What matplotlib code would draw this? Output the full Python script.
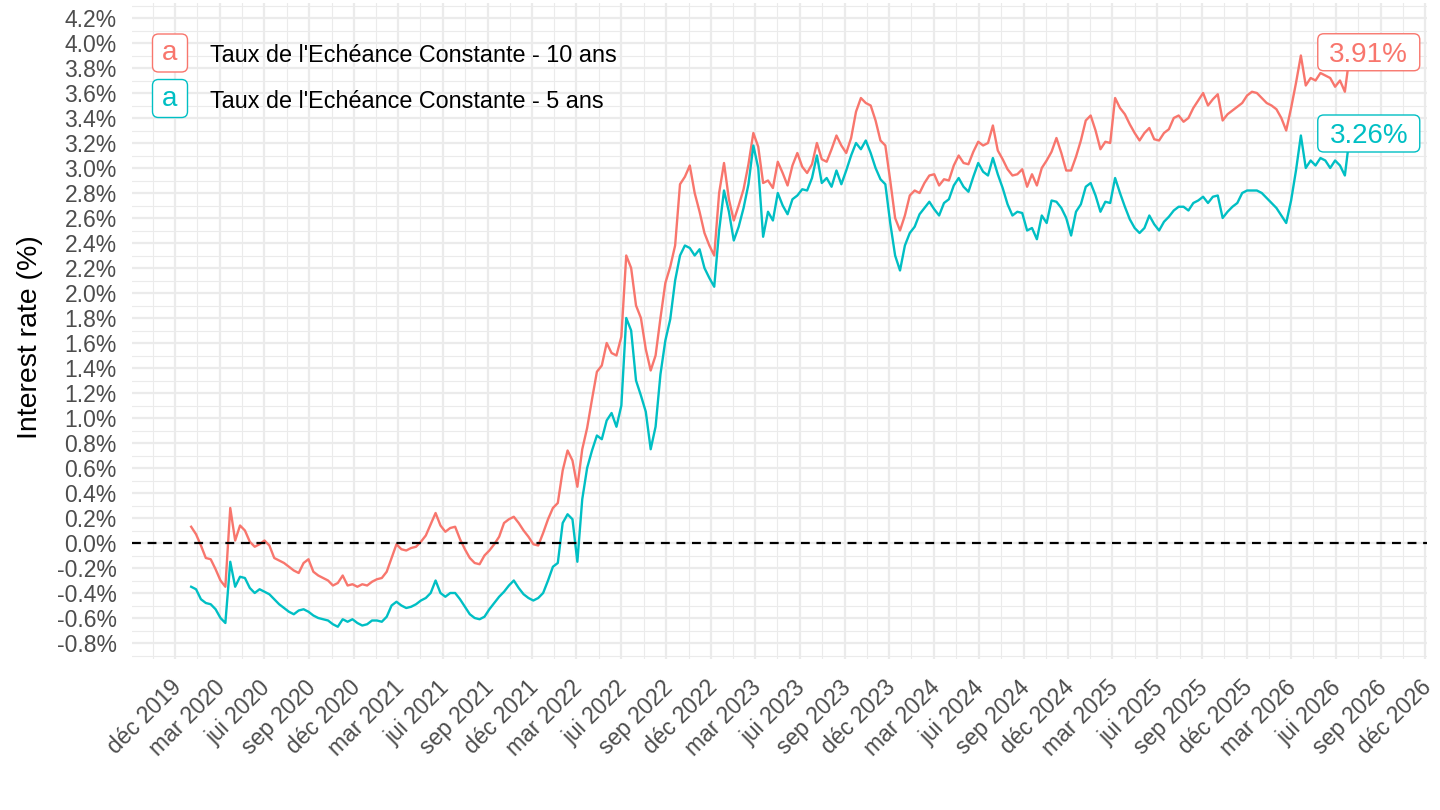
import numpy as np
import pandas as pd
import matplotlib
matplotlib.use("Agg")
import matplotlib.pyplot as plt
import matplotlib.dates as mdates
from matplotlib.patches import FancyBboxPatch
from matplotlib.transforms import IdentityTransform, ScaledTranslation

plt.rcParams['font.family'] = ['Liberation Sans', 'DejaVu Sans']

# dates de relevé (tous les 10 jours)
dates = pd.date_range("2020-01-03", periods=238, freq="10D")

# Taux de l'Echéance Constante - 10 ans (%)
taux_10 = [
    0.13, 0.07, -0.02, -0.12, -0.13, -0.21, -0.30, -0.35, 0.28, 0.02,
    0.14, 0.10, 0.01, -0.03, -0.01, 0.02, -0.02, -0.12, -0.14, -0.16,
    -0.19, -0.22, -0.24, -0.16, -0.13, -0.23, -0.26, -0.28, -0.30, -0.34,
    -0.32, -0.26, -0.34, -0.33, -0.35, -0.33, -0.34, -0.31, -0.29, -0.28,
    -0.23, -0.12, -0.01, -0.05, -0.06, -0.04, -0.03, 0.01, 0.06, 0.15,
    0.24, 0.14, 0.09, 0.12, 0.13, 0.03, -0.05, -0.12, -0.16, -0.17,
    -0.10, -0.06, -0.01, 0.05, 0.16, 0.19, 0.21, 0.16, 0.10, 0.05,
    -0.01, -0.02, 0.08, 0.19, 0.28, 0.32, 0.58, 0.74, 0.66, 0.45,
    0.75, 0.92, 1.15, 1.37, 1.42, 1.60, 1.52, 1.50, 1.65, 2.30,
    2.20, 1.90, 1.80, 1.55, 1.38, 1.50, 1.80, 2.08, 2.21, 2.38,
    2.87, 2.93, 3.02, 2.80, 2.65, 2.48, 2.38, 2.30, 2.80, 3.04,
    2.75, 2.58, 2.70, 2.83, 3.03, 3.28, 3.17, 2.88, 2.90, 2.84,
    3.05, 2.96, 2.86, 3.02, 3.12, 3.01, 2.96, 3.03, 3.20, 3.07,
    3.05, 3.15, 3.26, 3.18, 3.12, 3.24, 3.45, 3.56, 3.52, 3.50,
    3.38, 3.22, 3.18, 2.90, 2.60, 2.50, 2.62, 2.78, 2.82, 2.80,
    2.88, 2.94, 2.95, 2.86, 2.91, 2.90, 3.02, 3.10, 3.04, 3.03,
    3.13, 3.21, 3.18, 3.20, 3.34, 3.14, 3.07, 2.99, 2.94, 2.95,
    2.99, 2.85, 2.95, 2.86, 3.00, 3.06, 3.13, 3.24, 3.12, 2.98,
    2.98, 3.09, 3.22, 3.38, 3.42, 3.30, 3.15, 3.21, 3.20, 3.56,
    3.48, 3.43, 3.35, 3.28, 3.22, 3.28, 3.32, 3.23, 3.22, 3.28,
    3.31, 3.40, 3.42, 3.37, 3.40, 3.48, 3.54, 3.60, 3.50, 3.55,
    3.59, 3.38, 3.43, 3.46, 3.49, 3.52, 3.58, 3.61, 3.60, 3.56,
    3.52, 3.50, 3.47, 3.40, 3.30, 3.48, 3.68, 3.90, 3.66, 3.72,
    3.70, 3.76, 3.74, 3.72, 3.65, 3.70, 3.61, 3.91,
]

# Taux de l'Echéance Constante - 5 ans (%)
taux_5 = [
    -0.35, -0.37, -0.45, -0.48, -0.49, -0.53, -0.60, -0.64, -0.15, -0.35,
    -0.27, -0.28, -0.36, -0.40, -0.37, -0.39, -0.41, -0.45, -0.49, -0.52,
    -0.55, -0.57, -0.54, -0.53, -0.55, -0.58, -0.60, -0.61, -0.62, -0.65,
    -0.67, -0.61, -0.63, -0.61, -0.64, -0.66, -0.65, -0.62, -0.62, -0.63,
    -0.59, -0.50, -0.47, -0.50, -0.52, -0.51, -0.49, -0.46, -0.44, -0.40,
    -0.30, -0.40, -0.43, -0.40, -0.40, -0.45, -0.51, -0.57, -0.60, -0.61,
    -0.59, -0.53, -0.48, -0.43, -0.39, -0.34, -0.30, -0.36, -0.41, -0.44,
    -0.46, -0.44, -0.40, -0.30, -0.19, -0.16, 0.16, 0.23, 0.19, -0.15,
    0.35, 0.60, 0.74, 0.86, 0.83, 0.98, 1.04, 0.93, 1.10, 1.80,
    1.70, 1.30, 1.18, 1.05, 0.75, 0.93, 1.35, 1.62, 1.79, 2.10,
    2.30, 2.38, 2.36, 2.30, 2.35, 2.20, 2.12, 2.05, 2.50, 2.82,
    2.65, 2.42, 2.53, 2.68, 2.87, 3.18, 3.00, 2.45, 2.65, 2.58,
    2.80, 2.70, 2.63, 2.75, 2.78, 2.83, 2.82, 2.92, 3.10, 2.88,
    2.92, 2.85, 2.98, 2.87, 2.98, 3.10, 3.20, 3.15, 3.22, 3.12,
    3.00, 2.91, 2.87, 2.56, 2.30, 2.18, 2.38, 2.48, 2.53, 2.63,
    2.68, 2.73, 2.67, 2.62, 2.72, 2.75, 2.86, 2.92, 2.85, 2.81,
    2.93, 3.04, 2.97, 2.94, 3.08, 2.95, 2.84, 2.71, 2.62, 2.65,
    2.64, 2.50, 2.52, 2.43, 2.62, 2.56, 2.74, 2.73, 2.68, 2.60,
    2.46, 2.65, 2.71, 2.85, 2.88, 2.78, 2.65, 2.73, 2.72, 2.92,
    2.80, 2.69, 2.59, 2.52, 2.48, 2.52, 2.62, 2.55, 2.50, 2.57,
    2.61, 2.66, 2.69, 2.69, 2.66, 2.72, 2.74, 2.77, 2.72, 2.77,
    2.78, 2.60, 2.65, 2.69, 2.72, 2.80, 2.82, 2.82, 2.82, 2.80,
    2.76, 2.72, 2.68, 2.62, 2.56, 2.74, 2.98, 3.26, 3.00, 3.06,
    3.02, 3.08, 3.06, 3.00, 3.06, 3.02, 2.94, 3.26,
]

noms = ["Taux de l'Echéance Constante - 10 ans", "Taux de l'Echéance Constante - 5 ans"]
couleurs = ["#F8766D", "#00BFC4"]
mois = {12: "déc", 3: "mar", 6: "jui", 9: "sep"}

fig = plt.figure(figsize=(14.4, 8.1), dpi=100)
ax = fig.add_axes([132 / 1440, (810 - 659.25) / 810, 1295 / 1440, 656.25 / 810])

ax.plot(dates, taux_10, color=couleurs[0], lw=1.7, zorder=2)
ax.plot(dates, taux_5, color=couleurs[1], lw=1.7, zorder=2)
ax.axhline(0, color="black", lw=1.6, ls=(0, (4, 3)), zorder=3)

ax.set_xlim(pd.Timestamp("2019-09-04"), pd.Timestamp("2026-12-05"))
ax.set_ylim(-0.93, 4.32)

# axe des dates : tous les 3 mois
maj = pd.date_range("2019-12-01", "2026-12-01", freq="3MS")
maj_num = mdates.date2num(maj)
mineurs = list((maj_num[:-1] + maj_num[1:]) / 2)
mineurs = [maj_num[0] - (maj_num[1] - maj_num[0]) / 2] + mineurs
ax.set_xticks(maj_num)
ax.set_xticks(mineurs, minor=True)
ax.set_xticklabels([f"{mois[d.month]} {d.year}" for d in maj])

yt = np.round(np.arange(-0.8, 4.21, 0.2), 1)
ax.set_yticks(yt)
ax.set_yticks(np.round(np.arange(-0.9, 4.31, 0.2), 1), minor=True)
ax.set_yticklabels([f"{v + 0.0:.1f}%" if abs(v) > 1e-9 else "0.0%" for v in yt])

ax.grid(which="major", color="#EBEBEB", lw=1.6)
ax.grid(which="minor", color="#EBEBEB", lw=0.8)
ax.set_axisbelow(True)
for s in ax.spines.values():
    s.set_visible(False)
ax.tick_params(which="both", length=0)
ax.tick_params(axis="y", labelsize=16.5, labelcolor="#4D4D4D", pad=11)
ax.tick_params(axis="x", labelsize=16.5, labelcolor="#4D4D4D", pad=12)

decal = ScaledTranslation(-4 / 72, 0, fig.dpi_scale_trans)
for lab in ax.get_xticklabels():
    lab.set_rotation(45)
    lab.set_ha("right")
    lab.set_va("top")
    lab.set_rotation_mode("anchor")
    lab.set_transform(lab.get_transform() + decal)

fig.text(30 / 1440, 473 / 810, "Interest rate (%)", rotation=90,
         fontsize=20.5, ha="center", va="center")

ident = IdentityTransform()


def boite(cx, cy, w, h, texte, couleur, taille):
    fig.add_artist(FancyBboxPatch((cx - w / 2, cy - h / 2), w, h,
                                  boxstyle="round,pad=0,rounding_size=6",
                                  fc="white", ec=couleur, lw=1.0,
                                  transform=ident, zorder=5))
    em = taille * 100 / 72
    hauteur = 0.716 * em if texte[0].isdigit() else 0.52 * em
    fig.text(cx, cy - hauteur / 2, texte, color=couleur, fontsize=taille,
             ha="center", va="baseline", transform=ident, zorder=6)


# étiquettes de fin de série
fig.canvas.draw()
for serie, coul in zip([taux_10, taux_5], couleurs):
    px, py = ax.transData.transform((mdates.date2num(dates[-1]), serie[-1]))
    boite(px + 19, py + 2, 102, 37, f"{serie[-1]:.2f}%", coul, 20)

# légende
for k, (nom, coul) in enumerate(zip(noms, couleurs)):
    yk = [53, 98.5][k]
    boite(170, 810 - yk, 35, 38, "a", coul, 20)
    fig.text(210, 810 - yk - 3, nom, fontsize=16.8, ha="left", va="center",
             transform=ident)

fig.savefig("out.png", dpi=100)
